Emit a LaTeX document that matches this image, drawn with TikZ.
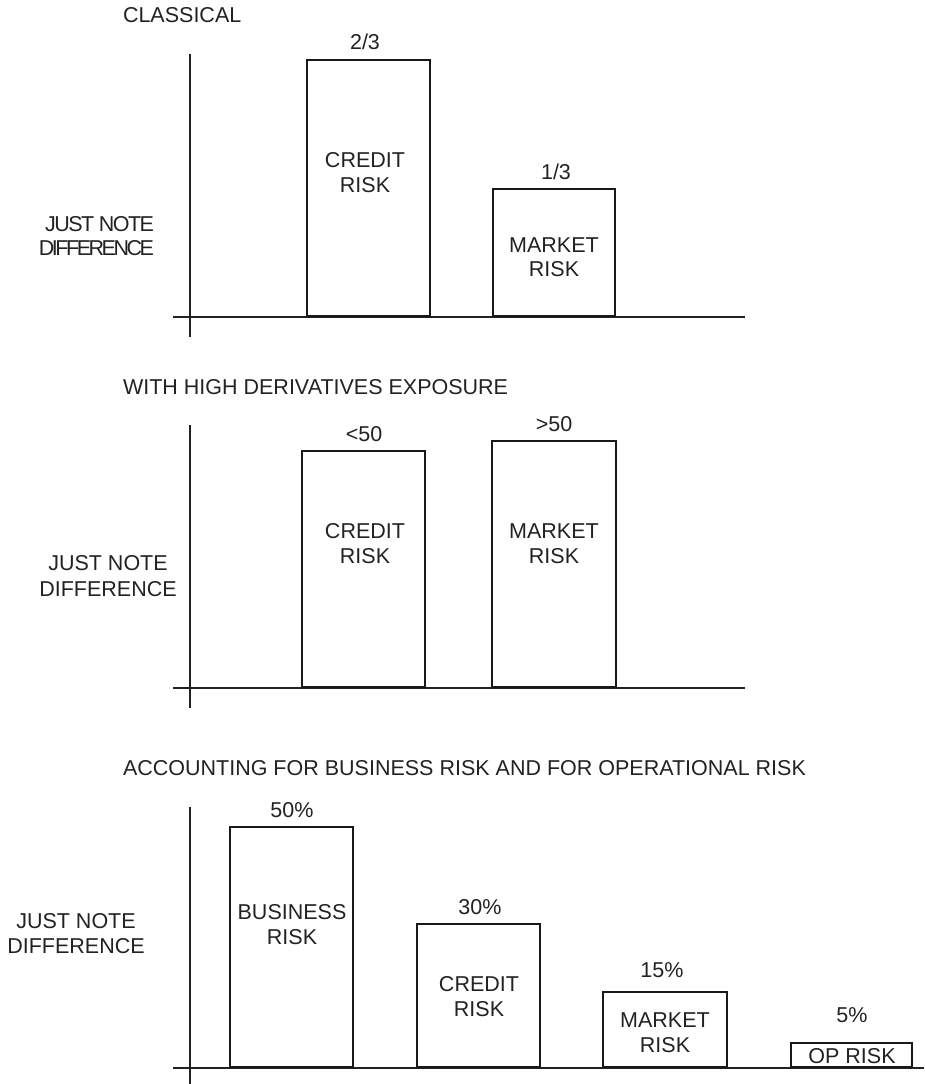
\documentclass[tikz,border=0pt]{standalone}
\usepackage{fontspec}
\setmainfont{Liberation Sans}
% tightly tracked faces for the crowded axis caption of the first chart
\newfontfamily\trackA{Liberation Sans}[LetterSpace=-7]
\newfontfamily\trackB{Liberation Sans}[LetterSpace=-11.5]
\definecolor{ink}{HTML}{222222}
% riskbar{name}{left}{right}{top}{bottom}
\newcommand\riskbar[5]{%
  \node[barbox, anchor=north west, minimum width={#3-#2}, minimum height={#5-#4}] (#1) at (#2,#4) {};}
\begin{document}
\begin{tikzpicture}[x=1pt,y=-1pt,
  every node/.style={inner sep=0pt, outer sep=0pt, text=ink,
    font=\fontsize{21.5}{24.5}\selectfont},
  lbl/.style={anchor=base},
  ttl/.style={anchor=base west},
  barbox/.style={draw=black!90, line width=2.5pt, rectangle},
  axis/.style={draw=ink, line width=1.3pt}]
\useasboundingbox (0,0) rectangle (924,1084);

% ---------- Classical ----------
\node[ttl] (t1) at (123,23) {CLASSICAL};
\draw[axis] (190,54) -- (190,337);
\draw[axis] (173,317) -- (745,317);
\riskbar{c1}{307}{430}{60}{316}
\riskbar{m1}{493}{615}{189}{316}
\node[lbl] (c1v) at (365,49) {2/3};
\node[lbl] (c1a) at (365,167) {CREDIT};
\node[lbl] (c1b) at (365,192) {RISK};
\node[lbl] (m1v) at (556,179) {1/3};
\node[lbl] (m1a) at (554,252) {MARKET};
\node[lbl] (m1b) at (554,276) {RISK};
\node[anchor=base east, font=\fontsize{21.5}{24.5}\trackA] (j1a) at (154,231) {JUST NOTE};
\node[anchor=base east, font=\fontsize{21.5}{24.5}\trackB] (j1b) at (154,255) {DIFFERENCE};

% ---------- High derivatives exposure ----------
\node[ttl] (t2) at (123,394) {WITH HIGH DERIVATIVES EXPOSURE};
\draw[axis] (190,425) -- (190,708);
\draw[axis] (173,688) -- (745,688);
\riskbar{c2}{302}{425}{451}{687}
\riskbar{m2}{492}{616}{441}{687}
\node[lbl] (c2v) at (364,441) {<50};
\node[lbl] (c2a) at (365,538) {CREDIT};
\node[lbl] (c2b) at (365,563) {RISK};
\node[lbl] (m2v) at (554,431) {>50};
\node[lbl] (m2a) at (554,538) {MARKET};
\node[lbl] (m2b) at (554,563) {RISK};
\node[lbl] (j2a) at (108,570) {JUST NOTE};
\node[lbl] (j2b) at (108,596) {DIFFERENCE};

% ---------- Business and operational risk ----------
\node[ttl] (t3) at (123,775) {ACCOUNTING FOR BUSINESS RISK AND FOR OPERATIONAL RISK};
\draw[axis] (190,807) -- (190,1084);
\draw[axis] (173,1068) -- (924,1068);
\riskbar{b3}{230}{353}{827}{1067}
\riskbar{c3}{417}{540}{924}{1067}
\riskbar{m3}{603}{727}{992}{1067}
\riskbar{o3}{791}{912}{1043}{1067}
\node[lbl] (b3v) at (292,817) {50\%};
\node[lbl] (b3a) at (292,919) {BUSINESS};
\node[lbl] (b3b) at (292,944) {RISK};
\node[lbl] (c3v) at (480,914) {30\%};
\node[lbl] (c3a) at (479,991) {CREDIT};
\node[lbl] (c3b) at (479,1016) {RISK};
\node[lbl] (m3v) at (662,977) {15\%};
\node[lbl] (m3a) at (665,1027) {MARKET};
\node[lbl] (m3b) at (665,1052) {RISK};
\node[lbl] (o3v) at (852,1022) {5\%};
\node[lbl] (o3a) at (852,1063) {OP RISK};
\node[lbl] (j3a) at (76,928) {JUST NOTE};
\node[lbl] (j3b) at (76,953) {DIFFERENCE};
\end{tikzpicture}
\end{document}
